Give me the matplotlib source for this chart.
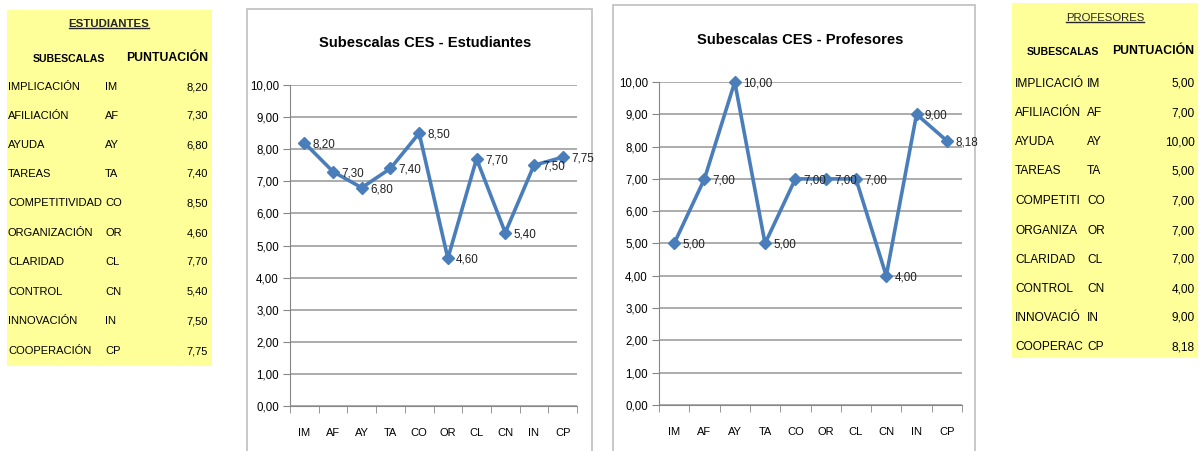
import matplotlib
matplotlib.use("Agg")
import matplotlib.pyplot as plt
from matplotlib.patches import Rectangle
from matplotlib.lines import Line2D

plt.rcParams['font.family'] = ['Liberation Sans', 'DejaVu Sans']

# data
codes = ['IM', 'AF', 'AY', 'TA', 'CO', 'OR', 'CL', 'CN', 'IN', 'CP']
names = ['IMPLICACIÓN', 'AFILIACIÓN', 'AYUDA', 'TAREAS', 'COMPETITIVIDAD',
         'ORGANIZACIÓN', 'CLARIDAD', 'CONTROL', 'INNOVACIÓN', 'COOPERACIÓN']
estudiantes = [8.20, 7.30, 6.80, 7.40, 8.50, 4.60, 7.70, 5.40, 7.50, 7.75]
profesores = [5.00, 7.00, 10.00, 5.00, 7.00, 7.00, 7.00, 4.00, 9.00, 8.18]

W, H = 1203, 451
fig = plt.figure(figsize=(W / 100, H / 100), dpi=100)
renderer = fig.canvas.get_renderer()


def fx(x):
    return x / W


def fy(y):
    return 1 - y / H


def fmt(v):
    return f"{v:.2f}".replace('.', ',')


YELLOW = '#FFFF99'
BLUE = '#4A7EBB'
GRID = '#A6A6A6'


def table(box, title, title_xy, sub_xy, pun_xy, rows_y, name_x, code_x, val_x,
          vals, max_x=None, fs=8.3, title_weight='bold'):
    x0, y0, x1, y1 = box
    fig.patches.append(Rectangle((fx(x0), fy(y1)), fx(x1) - fx(x0), fy(y0) - fy(y1),
                                 transform=fig.transFigure, facecolor=YELLOW,
                                 edgecolor='none', zorder=-2))
    t = fig.text(fx(title_xy[0]), fy(title_xy[1]), title, ha='center', va='center',
                 fontsize=8.2, fontweight=title_weight, color='#262626')
    fig.text(fx(sub_xy[0]), fy(sub_xy[1]), 'SUBESCALAS', ha='left', va='center',
             fontsize=7.6, fontweight='bold', color='black')
    fig.text(fx(pun_xy[0]), fy(pun_xy[1]), 'PUNTUACIÓN', ha='right', va='center',
             fontsize=8.8, fontweight='bold', color='black')
    for y, n, c, v in zip(rows_y, names, codes, vals):
        tn = fig.text(fx(name_x), fy(y), n, ha='left', va='center', fontsize=fs,
                      color='black')
        if max_x is not None:
            # the cell is too narrow: keep what fits, as in the spreadsheet
            s = n
            while tn.get_window_extent(renderer).x1 > max_x and len(s) > 1:
                s = s[:-1]
                tn.set_text(s)
        fig.text(fx(code_x), fy(y), c, ha='left', va='center', fontsize=fs, color='black')
        fig.text(fx(val_x), fy(y), fmt(v), ha='right', va='center', fontsize=fs,
                 color='black')
    # underline the title
    bb = t.get_window_extent(renderer).transformed(fig.transFigure.inverted())
    fig.lines.append(Line2D([bb.x0, bb.x1], [bb.y0 + 0.003, bb.y0 + 0.003],
                            transform=fig.transFigure, color='#262626', linewidth=1))


# left table
rows_l = [87, 116, 145, 174, 203, 233, 262, 292, 321, 351]
table((7, 10, 212, 366), 'ESTUDIANTES', (109, 24), (33, 59), (208, 58), rows_l,
      8, 105, 208, estudiantes, fs=8.0)

# right table
rows_r = [84, 113, 142, 171, 201, 231, 260, 289, 318, 347]
table((1012, 3, 1198, 358), 'PROFESORES', (1105, 18), (1027, 52), (1194, 51), rows_r,
      1015, 1087, 1195, profesores, max_x=1085, fs=8.6, title_weight='normal')


def chart(box, area, title, title_y, vals):
    bx0, by0, bx1, by1 = box
    fig.patches.append(Rectangle((fx(bx0), fy(by1)), fx(bx1) - fx(bx0), fy(by0) - fy(by1),
                                 transform=fig.transFigure, facecolor='white',
                                 edgecolor='#BFBFBF', linewidth=1.2, zorder=-2))
    ax0, ay0, ax1, ay1 = area
    ax = fig.add_axes([fx(ax0), fy(ay1), fx(ax1) - fx(ax0), fy(ay0) - fy(ay1)])
    ax.set_facecolor('none')
    x = list(range(len(codes)))
    ax.plot(x, vals, color=BLUE, linewidth=2.6, marker='D', markersize=6,
            markerfacecolor=BLUE, markeredgecolor=BLUE, zorder=3, clip_on=False)
    for xi, v in zip(x, vals):
        ax.annotate(fmt(v), (xi, v), xytext=(6, -1), textcoords='offset points',
                    ha='left', va='center', fontsize=8.4, color='#222222', zorder=4)
    ax.set_xlim(-0.5, len(codes) - 0.5)
    ax.set_ylim(0, 10)
    ax.set_yticks(range(0, 11))
    ax.set_yticklabels([fmt(v) for v in range(0, 11)], fontsize=8.3)
    ax.set_xticks(x)
    ax.set_xticklabels(codes, fontsize=8)
    ax.set_xticks([i - 0.5 for i in range(len(codes) + 1)], minor=True)
    ax.tick_params(axis='x', which='major', length=0, pad=16)
    ax.tick_params(axis='x', which='minor', length=5, color='#868686')
    ax.tick_params(axis='y', length=5, color='#868686', pad=3)
    ax.grid(axis='y', color=GRID, linewidth=1.3)
    ax.set_axisbelow(True)
    for s in ['top', 'right']:
        ax.spines[s].set_visible(False)
    for s in ['left', 'bottom']:
        ax.spines[s].set_color('#868686')
    fig.text(fx((bx0 + bx1) / 2 + 6), fy(title_y), title, ha='center', va='center',
             fontsize=10.6, fontweight='bold', color='black')
    return ax


chart((247, 9, 592, 460), (290, 85, 577, 406), 'Subescalas CES - Estudiantes', 43, estudiantes)
chart((613, 5, 975, 460), (659, 82, 962, 405), 'Subescalas CES - Profesores', 40, profesores)

fig.savefig('out.png', dpi=100)
